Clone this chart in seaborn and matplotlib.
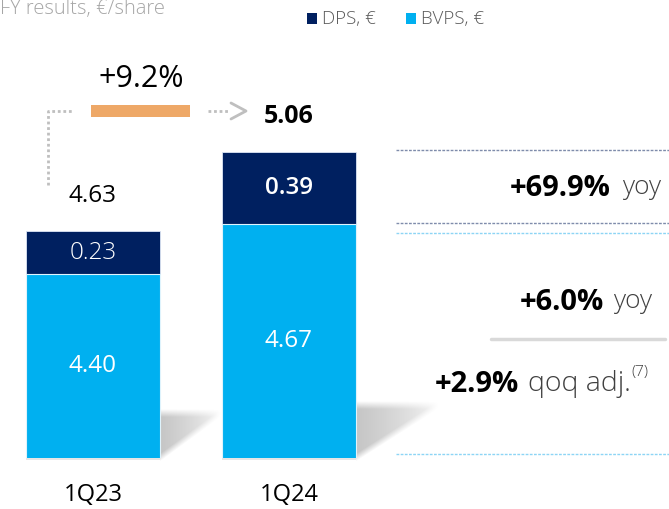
import numpy as np
import pandas as pd
import matplotlib
matplotlib.use("Agg")
import matplotlib.pyplot as plt
import seaborn as sns
from matplotlib.lines import Line2D
from matplotlib.patches import Rectangle

# Per-share figures
quarters = ["1Q23", "1Q24"]
bvps = [4.40, 4.67]
dps = [0.23, 0.39]
bvps_labels = ["4.40", "4.67"]
dps_labels = ["0.23", "0.39"]
total_labels = ["4.63", "5.06"]
total_growth = "+9.2%"
dps_growth = "+69.9%"
bvps_yoy = "+6.0%"
bvps_qoq = "+2.9%"

NAVY = "#002060"
CYAN = "#00B0F0"
ORANGE = "#EEA867"
DOT_NAVY = "#7F8CAB"
DOT_CYAN = "#8DD5F5"
GREY_TXT = "#404040"

sns.set_theme(style="white")
plt.rcParams["font.family"] = ["Open Sans", "DejaVu Sans"]

W, H = 669, 509
fig = plt.figure(figsize=(W / 100, H / 100), dpi=100)

# Overlay axes in pixel units (origin top-left) for annotations
ov = fig.add_axes([0, 0, 1, 1], zorder=0)
ov.axis("off")

# Main bar axes: truncated value axis
y0 = 3.405
ppu = 185.0
base_px, top_px = 458, 40
pitch = 196.0
x_first = 93.0
ax = fig.add_axes([0, (H - base_px) / H, 1, (base_px - top_px) / H], zorder=1)
ax.patch.set_alpha(0)

df = pd.DataFrame({"quarter": quarters, "bvps": bvps, "dps": dps})
df["total"] = df["bvps"] + df["dps"]
bw = 134 / pitch
sns.barplot(data=df, x="quarter", y="total", color=NAVY, saturation=1,
            width=bw, ax=ax, edgecolor="#DDE6F5", linewidth=0.6)
sns.barplot(data=df, x="quarter", y="bvps", color=CYAN, saturation=1,
            width=bw, ax=ax, edgecolor="#DFF3FC", linewidth=0.8)
ax.set_xlim(-x_first / pitch, (W - x_first) / pitch)
ax.set_ylim(y0, y0 + (base_px - top_px) / ppu)
ax.set_xlabel("")
ax.set_ylabel("")
ax.set_yticks([])
ax.tick_params(axis="x", length=0, pad=18, labelsize=17, labelcolor="black")
sns.despine(ax=ax, left=True, bottom=True)

for i in range(len(quarters)):
    b, d = bvps[i], dps[i]
    ax.text(i, (y0 + b) / 2, bvps_labels[i], ha="center", va="center",
            color="white", fontsize=17.5)
    ax.text(i, b + d / 2, dps_labels[i], ha="center", va="center",
            color="white", fontsize=17.5,
            fontweight="light" if i == 0 else "semibold")
    ax.annotate(total_labels[i], (i, b + d), xytext=(0, 35),
                textcoords="offset pixels", ha="center", va="center",
                fontsize=18 if i else 17.5,
                fontweight="bold" if i else "normal", color="black")


def shadow(xr, yb, h, L, strength=0.23, blur=8.0):
    x0, x1 = xr, xr + L + 12
    ya, yz = yb - h - 14, yb + 3
    xs = np.arange(x0, x1) + 0.5
    ys = np.arange(ya, yz) + 0.5
    X, Y = np.meshgrid(xs, ys)
    d = np.clip((X - xr) / L, 0, None)
    y_low = yb - d * h
    y_top = yb - h
    a_low = np.clip((y_low - Y) / blur + 0.5, 0, 1)
    a_top = np.clip((Y - y_top) / blur + 0.5, 0, 1)
    fade = np.clip(1 - d, 0, 1) ** 0.6
    img = np.zeros(X.shape + (4,))
    img[..., 3] = strength * a_low * a_top * fade
    ov.imshow(img, extent=(x0, x1, yz, ya), origin="upper",
              interpolation="bilinear", aspect="auto", zorder=0)


for i in range(len(quarters)):
    xr = x_first + pitch * i + 67
    tot_h = (bvps[i] + dps[i] - y0) * ppu
    shadow(xr, base_px, tot_h * 0.1 + 22, tot_h * 0.27)
    ov.add_patch(Rectangle((xr - 134, base_px), 134, 2, color="#E6E6E6",
                           lw=0, zorder=0))

ov.set_xlim(0, W)
ov.set_ylim(H, 0)

# Header and legend
ov.text(0, 14, "FY results, €/share", ha="left", va="baseline",
        fontsize=14.5, color="#A6A6A6", fontweight="light")
for sx, col, lab in [(307, NAVY, "DPS, €"), (406, CYAN, "BVPS, €")]:
    ov.add_patch(Rectangle((sx, 13), 10, 11, color=col, lw=0))
    ov.text(sx + 15, 19, lab, ha="left", va="center", fontsize=13.5,
            color="#595959", fontweight="light")

# Total growth bracket
dot = dict(color="#BFBFBF", lw=2, linestyle=(0, (1, 1)))
ov.add_line(Line2D([48, 48, 73], [185, 111, 111], **dot))
ov.add_line(Line2D([208, 230], [111, 111], **dot))
ov.add_line(Line2D([231, 246, 231], [103, 111, 119], color="#BFBFBF", lw=2))
ov.add_patch(Rectangle((91, 105), 99, 12, color=ORANGE, lw=0))
ov.text(141, 79, total_growth, ha="center", va="center", fontsize=22,
        color="black")

# Right-hand growth panel
for yy, col in [(150, DOT_NAVY), (223, DOT_NAVY), (233, DOT_CYAN), (454, DOT_CYAN)]:
    ov.add_line(Line2D([396, 669], [yy, yy], color=col, lw=1,
                       linestyle=(0, (2, 1))))
ov.add_line(Line2D([491, 665], [339, 339], color="#D9D9D9", lw=2.5))

ov.text(611, 188, dps_growth, ha="right", va="center", fontsize=21,
        fontweight="bold", color="black")
ov.text(622, 188, "yoy", ha="left", va="center", fontsize=19,
        fontweight="light", color=GREY_TXT)
ov.text(604, 302, bvps_yoy, ha="right", va="center", fontsize=21,
        fontweight="bold", color="black")
ov.text(613, 302, "yoy", ha="left", va="center", fontsize=19,
        fontweight="light", color=GREY_TXT)
ov.text(519, 384, bvps_qoq, ha="right", va="center", fontsize=21,
        fontweight="bold", color="black")
qoq = ov.text(528, 384, "qoq adj.", ha="left", va="center", fontsize=20.5,
              fontweight="light", color=GREY_TXT)
# superscript note marker sits right after the qoq text
fig.canvas.draw()
bb = qoq.get_window_extent()
x_note = ov.transData.inverted().transform((bb.x1, bb.y1))[0]
ov.text(x_note + 1, 373, "(7)", ha="left", va="center", fontsize=11,
        fontweight="light", color=GREY_TXT)

fig.savefig("out.png", dpi=100)
